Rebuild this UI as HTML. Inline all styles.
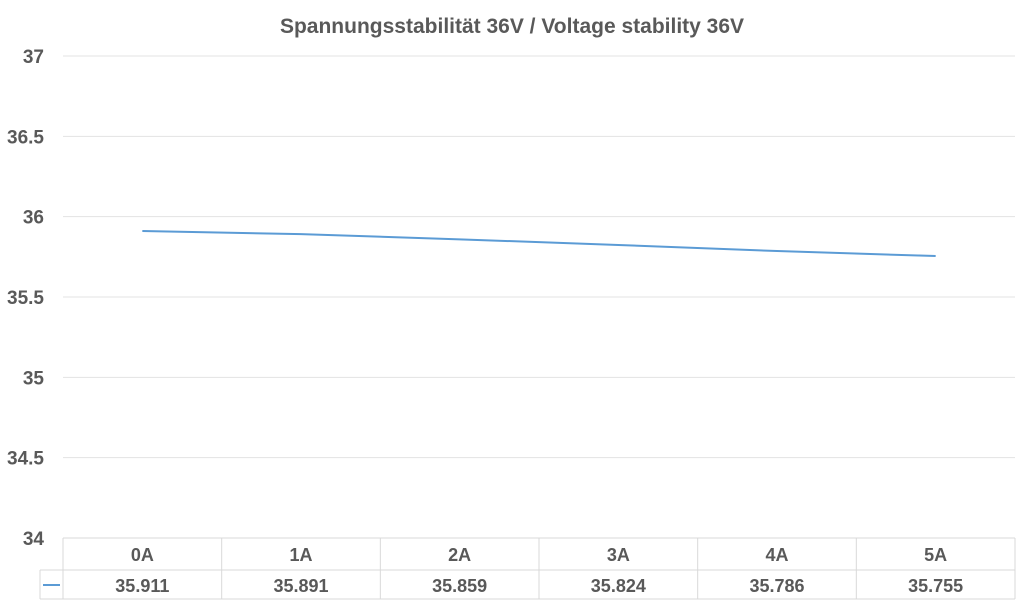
<!DOCTYPE html>
<html><head><meta charset="utf-8"><style>
body{margin:0;background:#fff;}
svg{display:block;font-family:"Liberation Sans",sans-serif;}
</style></head><body>
<svg width="1024" height="604" viewBox="0 0 1024 604">
<rect x="0" y="0" width="1024" height="604" fill="#fff"/>
<text x="512" y="33" text-anchor="middle" font-size="21" font-weight="bold" fill="#595959">Spannungsstabilität 36V / Voltage stability 36V</text>
<g id="grid"></g><g id="yt"></g><g id="tbl"></g><g id="series"></g>
</svg>
<script>
const categories=["0A","1A","2A","3A","4A","5A"];
const values=[35.911,35.891,35.859,35.824,35.786,35.755];
const yTicks=[34,34.5,35,35.5,36,36.5,37];
const NS="http://www.w3.org/2000/svg";
const X0=63,X1=1015,Y0=538,Y1=56,YMIN=34,YMAX=37;
const cw=(X1-X0)/categories.length;
function xs(i){return X0+cw*(i+0.5);}
function ys(v){return Y0-(v-YMIN)/(YMAX-YMIN)*(Y0-Y1);}
function mk(t,a,p){const e=document.createElementNS(NS,t);for(const k in a)e.setAttribute(k,a[k]);p.appendChild(e);return e;}
const grid=document.getElementById('grid'),yt=document.getElementById('yt'),tbl=document.getElementById('tbl'),ser=document.getElementById('series');
yTicks.forEach(v=>{
 const l=mk('line',{x1:X0,x2:X1,y1:ys(v),y2:ys(v),stroke:'#e3e3e3','stroke-width':1},grid);
 
 
 const t=mk('text',{x:44,y:ys(v)+7,'text-anchor':'end','font-size':19,'font-weight':'bold',fill:'#595959'},yt);
 t.textContent=String(v);
 
 
});
// table lines
[[X0,538,X1,538],[40,570,X1,570],[40,599,X1,599],[40,570,40,599],[X1,538,X1,599]].forEach(a=>{
 const l=mk('line',{x1:a[0],y1:a[1],x2:a[2],y2:a[3],stroke:'#d9d9d9','stroke-width':1},tbl);
 
 
});
for(let i=0;i<=categories.length;i++){
 const l=mk('line',{x1:X0+cw*i,x2:X0+cw*i,y1:538,y2:599,stroke:'#d9d9d9','stroke-width':1},tbl);
 
 
}
const lk=mk('line',{x1:43,x2:60,y1:585,y2:585,stroke:'#5b9bd5','stroke-width':2},tbl);


categories.forEach((c,i)=>{
 const t=mk('text',{x:xs(i),y:561,'text-anchor':'middle','font-size':18,'font-weight':'bold',fill:'#595959'},tbl);
 t.textContent=c;
 
 
 const v=mk('text',{x:xs(i),y:592,'text-anchor':'middle','font-size':18,'font-weight':'bold',fill:'#595959'},tbl);
 v.textContent=values[i].toFixed(3);
 
 
});
const pl=mk('polyline',{points:values.map((v,i)=>xs(i)+','+ys(v)).join(' '),fill:'none',stroke:'#5b9bd5','stroke-width':2},ser);


</script>
</body></html>
